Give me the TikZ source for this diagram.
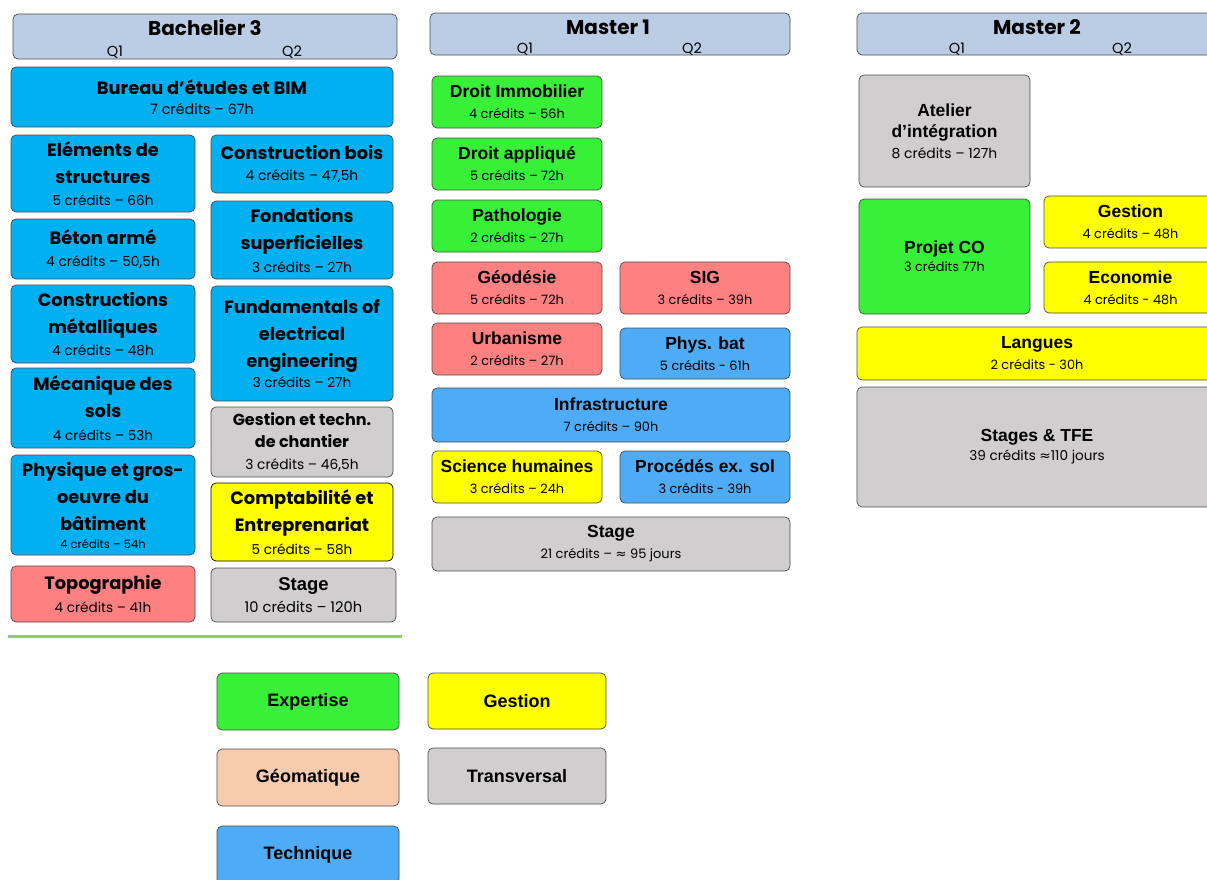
\documentclass[tikz,border=0pt]{standalone}
\usepackage{fontspec}
\setmainfont{Poppins}
\newfontfamily\arialfont{Liberation Sans}
\newfontfamily\symfont{DejaVu Sans}
\definecolor{hdrblue}{RGB}{186,205,229}
\definecolor{techB}{RGB}{0,176,240}
\definecolor{techM}{RGB}{77,172,245}
\definecolor{expert}{RGB}{56,240,56}
\definecolor{geomat}{RGB}{255,128,128}
\definecolor{gestion}{RGB}{255,255,0}
\definecolor{transv}{RGB}{208,206,206}
\definecolor{peach}{RGB}{248,203,173}
\definecolor{sepgreen}{RGB}{146,208,80}
\newcommand{\cred}[2][12.9]{{\normalfont\fontsize{#1}{#1}\selectfont #2}}
\newcommand{\apx}{{\symfont ≈}}
\begin{document}
\begin{tikzpicture}[x=1pt,y=-1pt,
  box/.style={draw=black!70, line width=0.7pt, rounded corners=5pt, inner sep=0pt, align=center},
  area/.style n args={4}{minimum width={(#3-#1)*1pt}, minimum height={(#4-#2)*1pt},
    at={({(#1+#3)/2},{(#2+#4)/2})}},
  tfut/.style={font=\fontsize{17.8}{27}\selectfont\bfseries},
  tarial/.style={font=\fontsize{17.5}{21}\selectfont\arialfont\bfseries},
  legend/.style={box, font=\fontsize{18}{21}\selectfont\arialfont\bfseries},
  hdr/.style={box, fill=hdrblue},
  htitle/.style={font=\fontsize{20}{22}\selectfont\bfseries},
  qlab/.style={font=\fontsize{14.5}{15}\selectfont}]
\clip (0,0) rectangle (1207,879);
% Bachelier 3
\node[hdr, area={13}{14}{397}{59}] (hbac) {};
\node[htitle] (tbac) at (205,28) {Bachelier 3};
\node[qlab] (q1bac) at (115,52) {Q1};
\node[qlab] (q2bac) at (292,52) {Q2};
\node[box, fill=techB, tfut, area={11}{67}{393}{127}] (bim) {Bureau d'études et BIM\\[-7pt]\cred[14.3]{7 crédits – 67h}};
\node[box, fill=techB, tfut, area={11}{135}{195}{212}] (elem) {Eléments de\\structures\\[-5pt]\cred[13.6]{5 crédits – 66h}};
\node[box, fill=techB, tfut, area={211}{135}{393}{193}] (bois) {Construction bois\\[-6pt]\cred[13.8]{4 crédits – 47,5h}};
\node[box, fill=techB, tfut, area={211}{201}{393}{279}] (fond) {Fondations\\superficielles\\[-4pt]\cred[13.8]{3 crédits – 27h}};
\node[box, fill=techB, tfut, area={11}{219}{195}{279}] (beton) {Béton armé\\[-5pt]\cred[13.8]{4 crédits – 50,5h}};
\node[box, fill=techB, tfut, area={11}{285}{195}{363}] (metal) {Constructions\\métalliques\\[-5pt]\cred[13.7]{4 crédits – 48h}};
\node[box, fill=techB, tfut, area={211}{286}{393}{401}] (fund) {Fundamentals of\\electrical\\engineering\\[-7pt]\cred[13.6]{3 crédits – 27h}};
\node[box, fill=techB, tfut, area={11}{368}{195}{448}] (meca) {Mécanique des\\sols\\[-4pt]\cred[13.6]{4 crédits – 53h}};
\node[box, fill=transv, font=\fontsize{16}{22}\selectfont\bfseries, area={211}{407}{393}{477}] (chant) {Gestion et techn.\\de chantier\\\cred[13.8]{3 crédits – 46,5h}};
\node[box, fill=techB, tfut, area={11}{455}{195}{555}] (phys) {Physique et gros-\\oeuvre du\\bâtiment\\[-9pt]\cred[11.5]{4 crédits – 54h}};
\node[box, fill=gestion, draw=black, tfut, area={211}{483}{393}{561}] (compta) {Comptabilité et\\Entreprenariat\\[-4pt]\cred[13.6]{5 crédits – 58h}};
\node[box, fill=geomat, tfut, area={11}{566}{195}{622}] (topo) {Topographie\\[-4pt]\cred[13.6]{4 crédits – 41h}};
\node[box, fill=transv, font=\fontsize{18.5}{22}\selectfont\arialfont\bfseries, area={211}{568}{396}{622}] (stgbac) {Stage\\\cred[14.7]{10 crédits – 120h}};
\draw[sepgreen, line width=3pt] (8,636) -- (402,636);
% Master 1
\node[hdr, area={430}{13}{790}{55}] (hma1) {};
\node[htitle] (tma1) at (608,27) {Master 1};
\node[qlab] (q1ma1) at (525,49) {Q1};
\node[qlab] (q2ma1) at (692,49) {Q2};
\node[box, fill=expert, tarial, area={432}{76}{602}{128}] (dimmo) {Droit Immobilier\\\cred{4 crédits – 56h}};
\node[box, fill=expert, tarial, area={432}{138}{602}{190}] (dappl) {Droit appliqué\\\cred{5 crédits – 72h}};
\node[box, fill=expert, tarial, area={432}{200}{602}{252}] (patho) {Pathologie\\\cred{2 crédits – 27h}};
\node[box, fill=geomat, tarial, area={432}{262}{602}{314}] (geod) {Géodésie\\\cred{5 crédits – 72h}};
\node[box, fill=geomat, tarial, area={620}{262}{790}{314}] (sig) {SIG\\\cred{3 crédits – 39h}};
\node[box, fill=geomat, tarial, area={432}{323}{602}{375}] (urba) {Urbanisme\\\cred{2 crédits – 27h}};
\node[box, fill=techM, tarial, area={620}{328}{790}{379}] (pbat) {Phys. bat\\\cred{5 crédits - 61h}};
\node[box, fill=techM, tarial, area={432}{388}{790}{442}] (infra) {Infrastructure\\\cred{7 crédits – 90h}};
\node[box, fill=gestion, tarial, area={432}{451}{602}{503}] (shum) {Science humaines\\\cred{3 crédits – 24h}};
\node[box, fill=techM, tarial, area={620}{451}{790}{503}] (proc) {Procédés ex. sol\\\cred{3 crédits - 39h}};
\node[box, fill=transv, tarial, area={432}{517}{790}{571}] (stgma1) {Stage\\\cred[13]{21 crédits – \apx{} 95 jours}};
% Master 2
\node[hdr, area={857}{13}{1217}{55}] (hma2) {};
\node[htitle] (tma2) at (1037,27) {Master 2};
\node[qlab] (q1ma2) at (957,49) {Q1};
\node[qlab] (q2ma2) at (1122,49) {Q2};
\node[box, fill=transv, tarial, area={859}{75}{1030}{187}] (atel) {Atelier\\d’intégration\\\cred[13.9]{8 crédits – 127h}};
\node[box, fill=expert, tarial, area={859}{199}{1030}{314}] (projco) {Projet CO\\[-3pt]\cred{3 crédits 77h}};
\node[box, fill=gestion, tarial, area={1044}{196}{1217}{248}] (gest) {Gestion\\\cred{4 crédits – 48h}};
\node[box, fill=gestion, tarial, area={1044}{262}{1217}{313}] (eco) {Economie\\\cred{4 crédits - 48h}};
\node[box, fill=gestion, tarial, area={857}{327}{1217}{380}] (lang) {Langues\\\cred{2 crédits - 30h}};
\node[box, fill=transv, tarial, area={857}{387}{1217}{507}] (tfe) {Stages \& TFE\\[-2pt]\cred[13.6]{39 crédits \apx{}110 jours}};
% legende
\node[legend, fill=expert, area={217}{673}{399}{730}] (lexp) {Expertise};
\node[legend, fill=gestion, area={428}{673}{606}{729}] (lges) {Gestion};
\node[legend, fill=peach, area={217}{749}{399}{806}] (lgeo) {Géomatique};
\node[legend, fill=transv, area={428}{748}{606}{804}] (ltra) {Transversal};
\node[legend, fill=techM, area={217}{826}{399}{884}] (ltec) {Technique};
\end{tikzpicture}
\end{document}
